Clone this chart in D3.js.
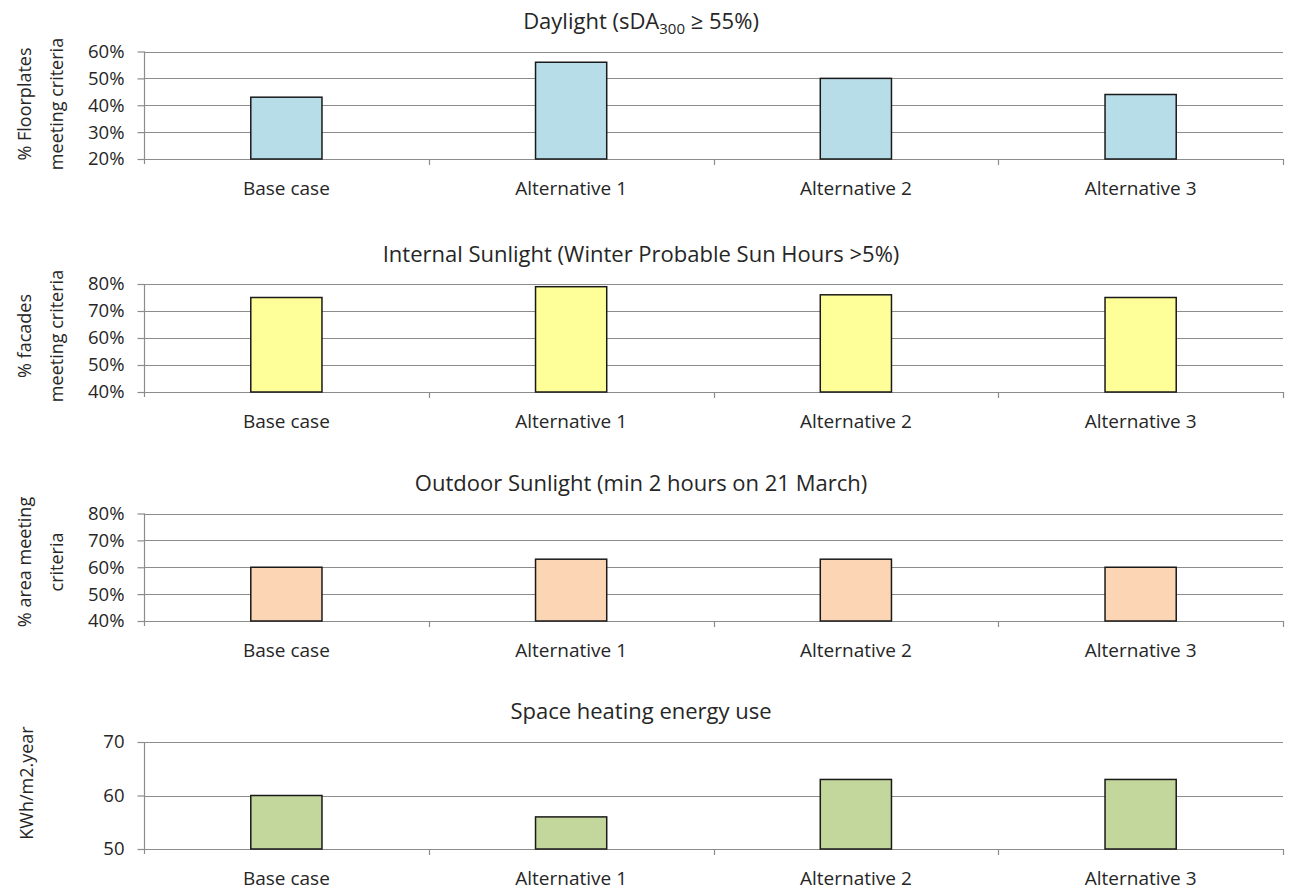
<!DOCTYPE html>
<html>
<head>
<meta charset="utf-8">
<script src="https://cdn.jsdelivr.net/npm/d3@7"></script>
<style>
  html, body { margin: 0; padding: 0; background: #fff; }
  svg { display: block; font-family: "Open Sans", sans-serif; }
</style>
</head>
<body>
<svg id="chart" width="1292" height="890"></svg>
<script>
// Shared categories
const categories = ["Base case", "Alternative 1", "Alternative 2", "Alternative 3"];

// Daylight (sDA300 >= 55%) — % floorplates meeting criteria
const daylightValues = [43, 56, 50, 44];
const daylightTicks = [20, 30, 40, 50, 60];

// Internal sunlight — % facades meeting criteria
const internalSunValues = [75, 79, 76, 75];
const internalSunTicks = [40, 50, 60, 70, 80];

// Outdoor sunlight — % area meeting criteria
const outdoorSunValues = [60, 63, 63, 60];
const outdoorSunTicks = [40, 50, 60, 70, 80];

// Space heating energy use — kWh/m2.year
const heatingValues = [60, 56, 63, 63];
const heatingTicks = [50, 60, 70];

const svg = d3.select("#chart");
const left = 144, right = 1283;
const textColor = "#262626";
const gridColor = "#8c8c8c";
const font = "'Open Sans', sans-serif";

const x = d3.scaleBand().domain(categories).range([left, right]).padding(0);

const panels = [
  { title: [["Daylight (sDA", 0], ["300", 1], [" \u2265 55%)", 0]],
    ylabel: ["% Floorplates", "meeting criteria"], values: daylightValues, ticks: daylightTicks,
    fmt: d => d + "%", top: 51.5, bottom: 159, fill: "#b7dde8",
    titleY: 29, labelY: 104 },
  { title: [["Internal Sunlight (Winter Probable Sun Hours >5%)", 0]],
    ylabel: ["% facades", "meeting criteria"], values: internalSunValues, ticks: internalSunTicks,
    fmt: d => d + "%", top: 284, bottom: 392, fill: "#ffff99",
    titleY: 262, labelY: 336 },
  { title: [["Outdoor Sunlight (min 2 hours on 21 March)", 0]],
    ylabel: ["% area meeting", "criteria"], values: outdoorSunValues, ticks: outdoorSunTicks,
    fmt: d => d + "%", top: 513.5, bottom: 621, fill: "#fcd5b5",
    titleY: 491, labelY: 562 },
  { title: [["Space heating energy use", 0]],
    ylabel: ["KWh/m2.year"], values: heatingValues, ticks: heatingTicks,
    fmt: d => String(d), top: 742, bottom: 849, fill: "#c3d69b",
    titleY: 719, labelY: 783 }
];

panels.forEach(p => {
  const g = svg.append("g");
  const y = d3.scaleLinear()
    .domain([p.ticks[0], p.ticks[p.ticks.length - 1]])
    .range([p.bottom, p.top]);

  // Horizontal gridlines
  g.append("g")
    .selectAll("line")
    .data(p.ticks)
    .join("line")
    .attr("x1", left).attr("x2", right)
    .attr("y1", d => Math.round(y(d)) + 0.5).attr("y2", d => Math.round(y(d)) + 0.5)
    .attr("stroke", gridColor).attr("stroke-width", 1.2);

  // Y axis
  const yAxis = g.append("g")
    .attr("transform", `translate(${left + 0.5},0)`)
    .call(d3.axisLeft(y).tickValues(p.ticks).tickFormat(p.fmt).tickSize(7).tickPadding(13));
  yAxis.select(".domain").attr("stroke", gridColor).attr("stroke-width", 1.2)
    .attr("d", `M0,${p.top}V${p.bottom + 5}`);
  yAxis.selectAll(".tick line").attr("stroke", gridColor).attr("stroke-width", 1.2);
  yAxis.selectAll(".tick text")
    .attr("fill", textColor).attr("font-size", 18.5).attr("font-family", font);

  // X axis with boundary ticks
  const bounds = categories.map(c => x(c)).concat([right]);
  g.append("g")
    .selectAll("line")
    .data(bounds.slice(1))
    .join("line")
    .attr("x1", d => Math.round(d) + 0.5).attr("x2", d => Math.round(d) + 0.5)
    .attr("y1", p.bottom).attr("y2", p.bottom + 6)
    .attr("stroke", gridColor).attr("stroke-width", 1.2);

  g.append("g")
    .selectAll("text")
    .data(categories)
    .join("text")
    .attr("x", d => x(d) + x.bandwidth() / 2)
    .attr("y", p.bottom + 36)
    .attr("text-anchor", "middle")
    .attr("fill", textColor).attr("font-size", 19)
    .text(d => d);

  // Bars
  const bw = x.bandwidth() * 0.25;
  g.append("g")
    .selectAll("rect")
    .data(p.values.map((v, i) => ({ cat: categories[i], v })))
    .join("rect")
    .attr("x", d => x(d.cat) + (x.bandwidth() - bw) / 2)
    .attr("width", bw)
    .attr("y", d => y(d.v))
    .attr("height", d => y.range()[0] - y(d.v))
    .attr("fill", p.fill)
    .attr("stroke", "#1a1a1a").attr("stroke-width", 1.5);

  // Title
  const t = g.append("text")
    .attr("x", 641).attr("y", p.titleY)
    .attr("text-anchor", "middle")
    .attr("fill", textColor).attr("font-size", 22);
  p.title.forEach(([s, sub]) => {
    const ts = t.append("tspan").text(s);
    if (sub) ts.attr("font-size", 15).attr("dy", 5);
    else if (t.selectAll("tspan").size() > 1) ts.attr("dy", -5);
  });

  // Y axis label (rotated, possibly two lines)
  const n = p.ylabel.length;
  const lx = n === 1 ? 27 : 41;
  const lab = g.append("text")
    .attr("transform", `translate(${lx},${p.labelY}) rotate(-90)`)
    .attr("text-anchor", "middle")
    .attr("fill", textColor).attr("font-size", 18);
  p.ylabel.forEach((s, i) => {
    lab.append("tspan")
      .attr("x", 0)
      .attr("y", n === 1 ? 6 : (i === 0 ? -16 + 6 : 16 + 6))
      .text(s);
  });
});
</script>
</body>
</html>
